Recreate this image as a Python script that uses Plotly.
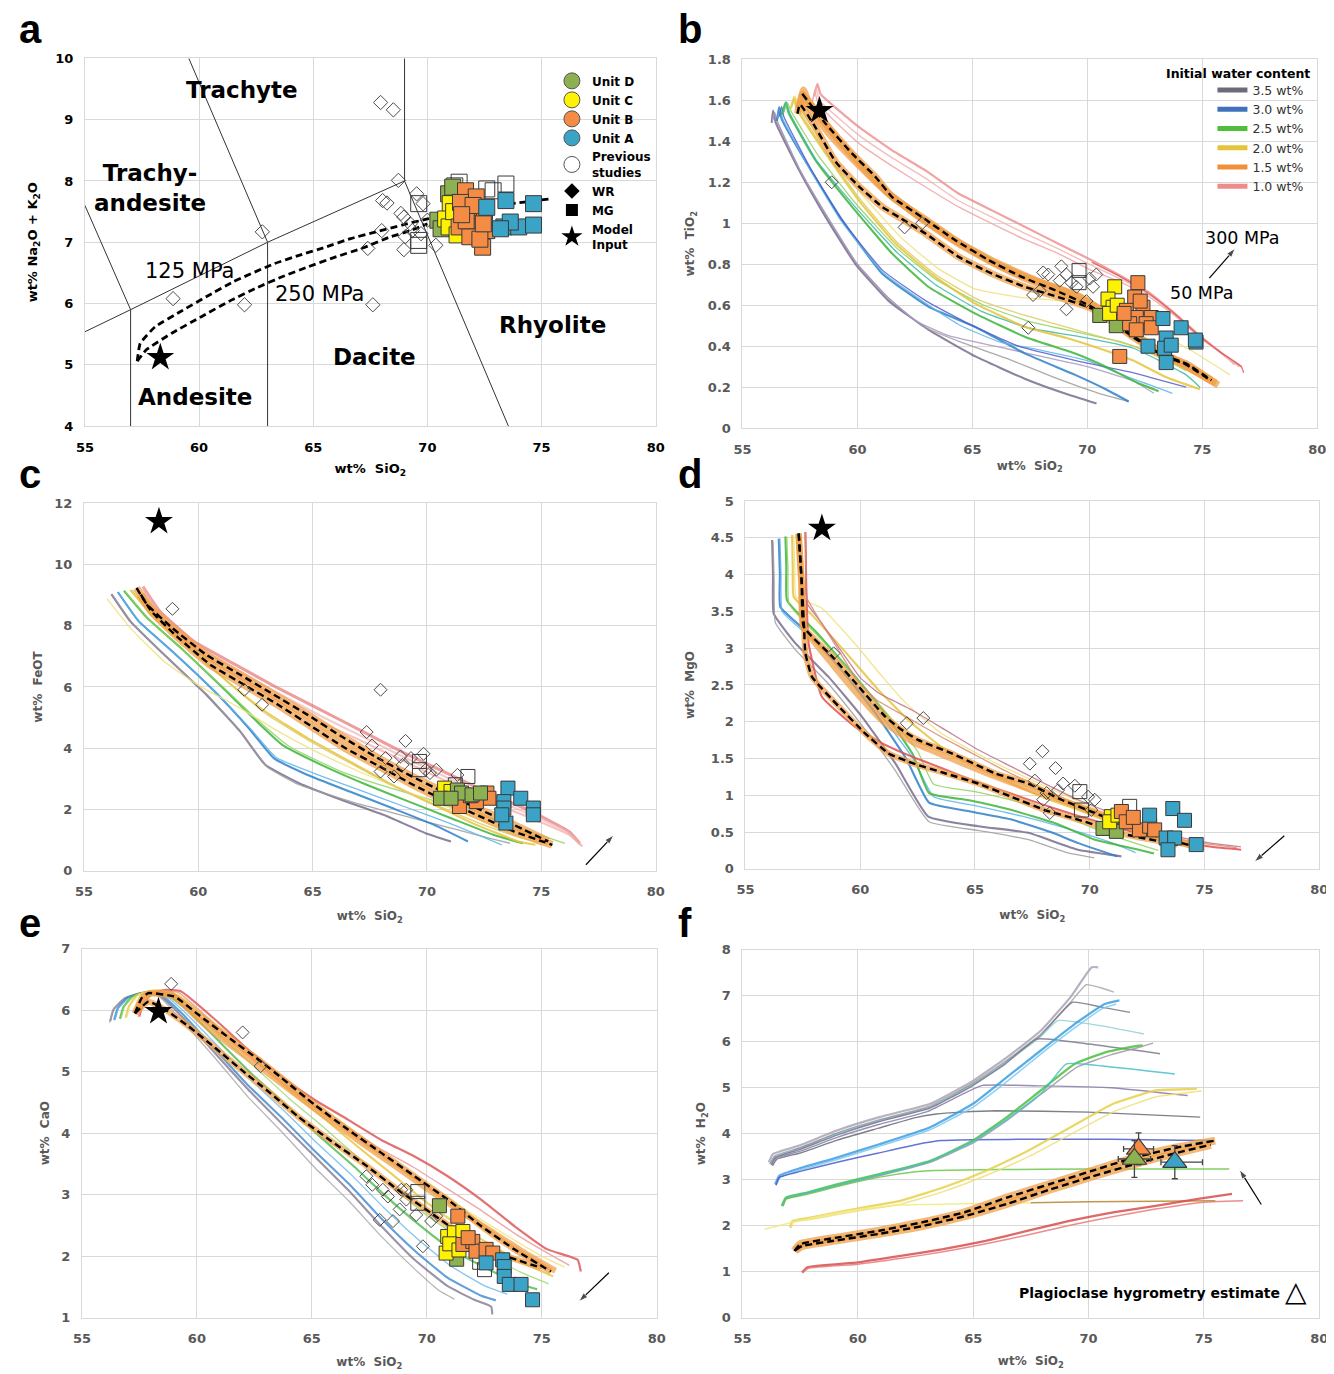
import plotly.graph_objects as go

W, H = 1334, 1374

# ---------------- Panel a : TAS diagram ----------------
TAS_LINES_X = [[55, 57, 63, 69], [55, 57], [57, 57], [59.55, 63], [63, 63], [69, 69], [69, 73.55]]
TAS_LINES_Y = [[5.54, 5.9, 7.0, 8.0], [7.6, 5.9], [5.9, 4], [10, 7], [7, 4], [8, 10], [8, 4]]
A_DASH1_X = [57.29, 57.42, 58.07, 59.19, 60.31, 61.52, 63.29, 64.41, 65.53, 66.64, 67.76, 68.88, 70.0, 71.86, 73.72, 75.4]
A_DASH1_Y = [5.06, 5.35, 5.62, 5.87, 6.11, 6.36, 6.65, 6.79, 6.92, 7.06, 7.17, 7.28, 7.38, 7.52, 7.63, 7.71]
A_DASH2_X = [57.29, 57.70, 58.82, 60.12, 61.43, 62.54, 63.66, 64.78, 65.90, 67.20, 68.32, 69.25, 70.0]
A_DASH2_Y = [5.06, 5.25, 5.52, 5.79, 6.06, 6.26, 6.44, 6.60, 6.75, 6.91, 7.08, 7.19, 7.30]
A_WR_X = [67.95, 68.51, 68.73, 69.53, 68.04, 68.23, 69.81, 68.84, 68.97, 69.25, 68.0, 62.77, 67.39, 69.03, 68.97, 70.37, 70.0, 58.86, 61.99, 67.61, 69.34, 69.72]
A_WR_Y = [9.28, 9.16, 8.01, 7.79, 7.68, 7.64, 7.63, 7.47, 7.41, 7.30, 7.19, 7.17, 6.90, 7.09, 6.88, 6.95, 7.36, 6.08, 5.98, 5.98, 7.19, 7.14]
A_MG_X = [69.62, 69.62, 69.62, 71.39, 72.60, 73.44, 72.88, 71.2]
A_MG_Y = [7.63, 7.03, 6.95, 7.98, 7.87, 7.95, 7.84, 7.92]
A_D_X = [70.46, 70.93, 71.11, 70.6]
A_D_Y = [7.36, 7.79, 7.90, 7.22]
A_C_X = [71.0, 70.8, 70.95, 71.15, 71.3]
A_C_Y = [7.63, 7.38, 7.25, 7.5, 7.12]
A_B_X = [71.67, 72.14, 71.58, 72.05, 71.39, 71.95, 72.6, 72.42, 71.86, 72.23, 71.45, 72.5, 71.7, 72.3, 72.0, 71.5, 72.45]
A_B_Y = [7.84, 7.74, 7.52, 7.41, 7.25, 7.25, 7.19, 6.92, 7.09, 7.57, 7.65, 7.40, 7.35, 7.05, 7.60, 7.45, 7.30]
A_A_X = [72.6, 73.44, 74.65, 73.35, 74.0, 74.65, 73.63, 73.2]
A_A_Y = [7.57, 7.68, 7.63, 7.25, 7.25, 7.28, 7.33, 7.22]
A_STAR = [[58.3], [5.12]]

# ---------------- Panel b : TiO2 ----------------
TIO2_35 = [
    [[56.27, 56.33, 56.45, 57.46, 58.62, 59.92, 61.37, 63.1, 65.13, 67.3, 69.0, 70.4],
     [1.49, 1.55, 1.49, 1.26, 1.03, 0.80, 0.62, 0.48, 0.35, 0.24, 0.17, 0.12]],
    [[56.3, 56.4, 56.5, 57.5, 58.7, 60.0, 61.4, 62.8, 64.5, 66.5, 68.5, 70.5, 71.8],
     [1.50, 1.54, 1.50, 1.26, 1.03, 0.80, 0.63, 0.50, 0.42, 0.34, 0.25, 0.17, 0.13]],
    [[56.3, 56.4, 56.5, 57.5, 58.7, 60.0, 61.4, 62.6, 64.0, 66.0, 68.0, 70.0, 72.0, 72.9],
     [1.50, 1.54, 1.50, 1.26, 1.03, 0.80, 0.63, 0.52, 0.45, 0.40, 0.35, 0.30, 0.23, 0.17]],
]
TIO2_30 = [
    [[56.5, 56.59, 56.7, 57.89, 59.34, 61.08, 63.1, 65.13, 67.3, 69.47, 70.8, 71.8],
     [1.50, 1.567, 1.51, 1.275, 1.015, 0.754, 0.592, 0.494, 0.364, 0.26, 0.19, 0.13]],
    [[56.55, 56.65, 56.75, 57.9, 59.3, 61.1, 63.1, 64.5, 66.2, 68.0, 70.0, 72.0, 73.7],
     [1.51, 1.56, 1.51, 1.27, 1.01, 0.76, 0.60, 0.50, 0.42, 0.38, 0.33, 0.24, 0.17]],
    [[56.6, 56.7, 56.8, 57.9, 59.3, 61.1, 63.0, 65.0, 67.0, 69.5, 72.0, 74.3],
     [1.52, 1.57, 1.52, 1.28, 1.02, 0.77, 0.62, 0.50, 0.40, 0.33, 0.27, 0.20]],
]
TIO2_25 = [
    [[56.7, 56.88, 57.0, 58.18, 59.77, 61.51, 63.1, 65.13, 67.3, 69.47, 70.8, 72.2, 73.1],
     [1.53, 1.59, 1.54, 1.307, 1.08, 0.852, 0.689, 0.559, 0.445, 0.364, 0.30, 0.22, 0.18]],
    [[56.8, 56.95, 57.1, 58.3, 59.9, 61.7, 63.5, 65.5, 67.5, 69.5, 71.5, 73.0, 74.3],
     [1.54, 1.59, 1.55, 1.33, 1.10, 0.88, 0.72, 0.60, 0.52, 0.47, 0.42, 0.36, 0.28]],
    [[56.75, 56.9, 57.05, 58.2, 59.9, 61.7, 63.4, 65.4, 67.4, 69.5, 72.0, 74.3, 74.9],
     [1.53, 1.59, 1.54, 1.31, 1.08, 0.86, 0.70, 0.57, 0.49, 0.45, 0.39, 0.26, 0.20]],
]
TIO2_20 = [
    [[57.1, 57.24, 57.35, 58.62, 60.06, 61.66, 63.39, 65.13, 67.3, 69.1, 70.5, 72.0, 73.4, 74.9],
     [1.56, 1.616, 1.56, 1.34, 1.112, 0.90, 0.738, 0.608, 0.494, 0.44, 0.39, 0.33, 0.25, 0.19]],
    [[57.2, 57.3, 57.4, 58.7, 60.2, 61.9, 63.5, 65.1, 67.0, 69.0, 70.5, 72.5, 74.5, 76.2],
     [1.58, 1.62, 1.58, 1.36, 1.14, 0.93, 0.78, 0.68, 0.64, 0.62, 0.59, 0.50, 0.38, 0.26]],
    [[57.15, 57.27, 57.38, 58.6, 60.1, 61.7, 63.4, 65.2, 67.3, 69.5, 72.0, 74.0, 75.6],
     [1.57, 1.61, 1.57, 1.35, 1.12, 0.91, 0.75, 0.63, 0.55, 0.48, 0.40, 0.30, 0.22]],
]
TIO2_15 = [
    [[57.45, 57.6, 57.8, 58.9, 60.0, 61.2, 62.6, 64.2, 66.0, 67.8, 69.5, 71.0, 72.5, 74.0, 75.6],
     [1.56, 1.63, 1.58, 1.42, 1.29, 1.16, 1.04, 0.92, 0.81, 0.72, 0.65, 0.55, 0.42, 0.32, 0.22]],
    [[57.5, 57.65, 57.85, 59.0, 60.1, 61.3, 62.8, 64.4, 66.2, 68.0, 69.7, 71.2, 72.7, 74.2, 75.7],
     [1.57, 1.65, 1.60, 1.43, 1.29, 1.15, 1.02, 0.90, 0.79, 0.71, 0.64, 0.53, 0.41, 0.31, 0.21]],
]
TIO2_DASH = [
    [[57.6, 58.62, 59.77, 60.79, 61.51, 62.81, 64.26, 65.71, 67.15, 68.6, 70.19, 71.98, 73.14, 74.3, 75.4],
     [1.632, 1.486, 1.34, 1.226, 1.128, 1.03, 0.917, 0.82, 0.738, 0.673, 0.592, 0.445, 0.364, 0.315, 0.234]],
    [[57.39, 57.5, 58.11, 59.05, 60.06, 61.08, 61.8, 62.96, 64.4, 65.85, 67.3, 68.74, 70.19, 72.0, 73.2, 74.3, 75.4],
     [1.535, 1.58, 1.48, 1.30, 1.18, 1.08, 1.03, 0.95, 0.836, 0.754, 0.689, 0.64, 0.584, 0.45, 0.36, 0.31, 0.23]],
]
TIO2_10 = [
    [[58.1, 58.26, 58.4, 60.06, 61.51, 62.96, 64.4, 65.85, 67.3, 68.74, 70.19, 71.5, 72.7, 73.8, 74.9, 75.8, 76.7],
     [1.62, 1.68, 1.63, 1.47, 1.356, 1.258, 1.145, 1.063, 0.982, 0.90, 0.82, 0.74, 0.66, 0.56, 0.45, 0.37, 0.30]],
    [[58.0, 58.15, 58.3, 60.06, 61.5, 62.96, 64.4, 65.85, 67.3, 68.74, 70.19, 71.5, 72.7, 73.8, 74.9, 75.8, 76.4],
     [1.58, 1.64, 1.58, 1.39, 1.28, 1.177, 1.08, 0.998, 0.92, 0.852, 0.77, 0.71, 0.64, 0.55, 0.44, 0.37, 0.31]],
    [[58.05, 58.2, 58.35, 60.06, 61.5, 62.96, 64.4, 65.85, 67.3, 68.74, 70.19, 71.5, 72.7, 73.8, 74.9, 75.8, 76.6],
     [1.60, 1.66, 1.60, 1.43, 1.32, 1.22, 1.11, 1.03, 0.95, 0.875, 0.795, 0.725, 0.65, 0.555, 0.445, 0.37, 0.30]],
    [[70.19, 71.5, 72.7, 73.8, 74.9, 75.8, 76.7, 76.8],
     [0.81, 0.735, 0.655, 0.558, 0.447, 0.37, 0.30, 0.27]],
]
B_WR_X = [58.88, 62.05, 62.81, 67.43, 68.08, 68.3, 68.87, 69.09, 68.8, 69.31, 69.53, 70.1, 70.39, 70.25, 69.96, 67.64, 67.93, 69.09]
B_WR_Y = [1.20, 0.98, 1.00, 0.49, 0.76, 0.75, 0.79, 0.75, 0.72, 0.71, 0.69, 0.73, 0.75, 0.69, 0.62, 0.65, 0.67, 0.58]
B_MG_X = [69.64, 69.64]
B_MG_Y = [0.77, 0.71]
B_D_X = [70.54, 71.26, 71.0]
B_D_Y = [0.55, 0.50, 0.58]
B_C_X = [71.19, 70.9, 71.12, 70.97, 71.3]
B_C_Y = [0.69, 0.63, 0.59, 0.56, 0.60]
B_B_X = [72.2, 72.06, 71.7, 72.42, 72.13, 72.78, 71.84, 72.56, 72.13, 72.78, 71.41, 71.6, 72.3]
B_B_Y = [0.71, 0.64, 0.575, 0.59, 0.54, 0.54, 0.51, 0.51, 0.48, 0.49, 0.35, 0.56, 0.62]
B_A_X = [73.29, 74.08, 74.73, 73.43, 72.64, 73.36, 73.65, 73.43, 74.7]
B_A_Y = [0.535, 0.49, 0.42, 0.44, 0.40, 0.39, 0.405, 0.32, 0.43]
B_STAR = [[58.35], [1.55]]

# ---------------- Panel c : FeOT ----------------
FEO_35 = [
    [[56.2, 57.03, 58.51, 60.35, 61.83, 62.93, 64.41, 66.25, 68.1, 69.94, 71.05],
     [9.03, 8.14, 7.05, 5.75, 4.55, 3.46, 2.86, 2.32, 1.83, 1.23, 0.96]],
    [[56.25, 57.1, 58.6, 60.45, 61.9, 63.0, 64.41, 67.18, 69.94, 72.71, 73.63],
     [9.0, 8.1, 7.0, 5.7, 4.5, 3.4, 2.81, 2.15, 1.61, 1.07, 0.9]],
]
FEO_30 = [
    [[56.48, 57.4, 58.87, 60.72, 62.2, 63.3, 64.78, 66.62, 68.47, 70.31, 71.79],
     [9.10, 8.14, 7.16, 5.85, 4.66, 3.68, 3.13, 2.59, 2.05, 1.50, 0.96]],
    [[56.5, 57.45, 58.95, 60.8, 62.3, 63.4, 65.0, 67.0, 69.0, 71.0, 73.27],
     [9.08, 8.1, 7.1, 5.8, 4.62, 3.7, 3.2, 2.65, 2.1, 1.55, 0.85]],
]
FEO_25 = [
    [[56.75, 57.77, 59.24, 61.09, 62.56, 63.67, 65.52, 67.36, 69.21, 71.05, 72.9, 74.19],
     [9.14, 8.25, 7.27, 5.96, 4.87, 4.11, 3.41, 2.81, 2.26, 1.72, 1.18, 0.90]],
    [[56.8, 57.85, 59.3, 61.2, 62.7, 64.0, 66.25, 68.1, 69.94, 71.8, 73.63, 76.03],
     [9.12, 8.2, 7.22, 5.92, 4.85, 4.05, 3.24, 2.77, 2.37, 1.94, 1.50, 0.90]],
]
FEO_20 = [
    [[57.03, 57.95, 59.43, 61.27, 62.93, 64.78, 66.62, 68.47, 70.31, 72.16, 74.0, 74.74],
     [9.17, 8.36, 7.38, 6.18, 5.2, 4.33, 3.57, 2.81, 2.15, 1.50, 0.96, 0.85]],
    [[56.01, 57.03, 58.51, 59.98, 61.83, 63.5, 65.0, 67.0, 69.0, 71.0, 73.0, 75.0],
     [8.88, 7.92, 6.83, 6.07, 5.31, 4.55, 3.95, 3.25, 2.62, 2.05, 1.45, 0.85]],
    [[57.1, 58.0, 59.5, 61.35, 63.0, 64.9, 66.8, 68.6, 70.5, 72.3, 74.2, 75.5],
     [9.15, 8.3, 7.33, 6.12, 5.1, 4.22, 3.45, 2.75, 2.12, 1.55, 1.05, 0.85]],
]
FEO_DASH = [
    [[57.3, 57.77, 58.87, 60.35, 61.83, 63.3, 64.78, 66.25, 67.73, 69.21, 70.68, 72.16, 73.63, 75.3],
     [9.23, 8.68, 7.92, 7.05, 6.40, 5.75, 5.09, 4.39, 3.73, 3.13, 2.59, 2.05, 1.56, 0.96]],
    [[57.49, 57.95, 59.06, 60.54, 62.01, 63.49, 64.96, 66.44, 67.92, 69.39, 70.87, 72.34, 73.82, 75.48],
     [9.01, 8.47, 7.65, 6.72, 6.07, 5.42, 4.71, 4.0, 3.41, 2.81, 2.26, 1.77, 1.28, 0.85]],
]
FEO_10 = [
    [[57.58, 58.32, 59.8, 61.64, 63.49, 65.33, 67.18, 69.02, 70.87, 72.71, 74.56, 76.22, 76.68],
     [9.28, 8.47, 7.49, 6.72, 5.96, 5.26, 4.55, 3.84, 3.19, 2.54, 1.94, 1.28, 0.90]],
    [[57.6, 58.4, 59.8, 61.64, 63.49, 65.33, 67.18, 69.02, 70.87, 72.71, 74.56, 76.22, 76.8],
     [9.2, 8.2, 7.27, 6.40, 5.64, 4.87, 4.22, 3.57, 2.92, 2.26, 1.72, 1.18, 0.80]],
    [[57.59, 58.36, 59.8, 61.64, 63.49, 65.33, 67.18, 69.02, 70.87, 72.71, 74.56, 76.22, 76.7],
     [9.25, 8.33, 7.38, 6.56, 5.80, 5.06, 4.38, 3.70, 3.05, 2.40, 1.83, 1.23, 0.85]],
]
C_WR_X = [58.87, 62.01, 62.79, 67.97, 67.36, 67.6, 69.06, 69.85, 68.19, 68.84, 68.93, 69.3, 70.13, 70.41, 71.33, 67.97, 68.56, 69.94]
C_WR_Y = [8.55, 5.91, 5.42, 5.91, 4.53, 4.09, 4.24, 3.82, 3.68, 3.73, 3.46, 3.68, 3.19, 3.30, 3.13, 3.24, 3.08, 3.30]
C_MG_X = [69.67, 69.67, 71.79, 71.24]
C_MG_Y = [3.57, 3.30, 3.08, 2.81]
C_C_X = [70.77, 71.05]
C_C_Y = [2.70, 2.59]
C_B_X = [72.62, 71.42, 72.71, 72.16, 71.9]
C_B_Y = [2.54, 2.10, 2.37, 2.26, 2.45]
C_D_X = [70.59, 71.33, 71.51, 71.97, 72.34, 71.05]
C_D_Y = [2.37, 2.64, 2.54, 2.48, 2.54, 2.37]
C_A_X = [73.54, 74.1, 73.36, 74.65, 74.65, 73.36, 73.45, 73.27]
C_A_Y = [2.70, 2.37, 2.26, 2.05, 1.83, 2.05, 1.56, 1.83]
C_STAR = [[58.28], [11.4]]

# ---------------- Panel d : MgO ----------------
MGO_35 = [
    [[56.16, 56.2, 56.23, 57.17, 58.62, 60.07, 61.52, 62.97, 65.14, 67.32, 69.49, 71.38],
     [4.47, 4.0, 3.47, 3.07, 2.61, 2.07, 1.44, 0.71, 0.58, 0.49, 0.26, 0.17]],
    [[56.2, 56.25, 56.3, 57.2, 58.6, 60.0, 61.5, 63.0, 65.2, 67.3, 69.0, 70.2],
     [4.45, 3.9, 3.35, 2.97, 2.52, 1.98, 1.35, 0.64, 0.52, 0.40, 0.22, 0.15]],
]
MGO_30 = [
    [[56.45, 56.5, 56.52, 57.9, 59.3, 60.7, 62.0, 63.0, 64.8, 66.6, 68.3, 69.5, 71.2],
     [4.49, 4.0, 3.56, 3.16, 2.66, 2.10, 1.50, 0.90, 0.78, 0.67, 0.50, 0.35, 0.17]],
    [[56.5, 56.55, 56.6, 58.0, 59.5, 61.0, 62.3, 63.2, 65.0, 67.0, 69.0, 71.0, 72.0],
     [4.49, 4.0, 3.5, 3.1, 2.6, 2.05, 1.5, 0.98, 0.86, 0.72, 0.55, 0.35, 0.22]],
]
MGO_25 = [
    [[56.74, 56.78, 56.81, 58.2, 59.6, 61.0, 62.3, 63.0, 64.8, 66.6, 68.5, 70.2, 72.0, 72.8],
     [4.52, 4.1, 3.65, 3.18, 2.68, 2.15, 1.55, 1.03, 0.93, 0.80, 0.62, 0.40, 0.27, 0.21]],
    [[56.8, 56.85, 56.9, 58.3, 59.8, 61.2, 62.5, 63.2, 65.0, 67.0, 69.0, 71.0, 73.0],
     [4.52, 4.1, 3.6, 3.12, 2.6, 2.1, 1.6, 1.15, 1.05, 0.90, 0.70, 0.45, 0.25]],
]
MGO_20 = [
    [[57.03, 57.06, 57.1, 57.9, 59.35, 60.8, 62.25, 63.7, 65.2, 66.6, 68.0, 69.5, 71.0, 72.4, 74.3],
     [4.54, 4.1, 3.7, 3.45, 2.95, 2.43, 1.98, 1.62, 1.37, 1.16, 0.97, 0.80, 0.62, 0.44, 0.30]],
    [[57.1, 57.15, 57.2, 58.3, 59.8, 61.0, 62.0, 63.5, 65.5, 68.0, 70.5, 73.0, 75.0],
     [4.54, 4.1, 3.7, 3.55, 3.05, 2.6, 2.25, 1.85, 1.50, 1.13, 0.78, 0.46, 0.32]],
]
MGO_15 = [
    [[57.3, 57.42, 57.5, 58.6, 59.8, 61.0, 62.3, 63.8, 65.5, 67.2, 68.9, 70.5, 72.5, 75.0],
     [4.55, 3.9, 3.3, 2.85, 2.40, 2.0, 1.72, 1.52, 1.30, 1.10, 0.92, 0.74, 0.50, 0.28]],
]
MGO_DASH = [
    [[57.32, 57.45, 57.54, 58.77, 59.93, 61.09, 61.81, 62.54, 63.99, 65.87, 67.32, 68.77, 70.22, 72.39, 74.86],
     [4.56, 3.9, 3.29, 2.89, 2.48, 2.07, 1.89, 1.75, 1.57, 1.30, 1.16, 0.94, 0.76, 0.49, 0.28]],
    [[57.32, 57.45, 57.55, 57.61, 57.9, 59.06, 60.22, 61.23, 62.25, 63.7, 65.14, 66.59, 68.04, 69.49, 71.67, 73.84],
     [4.56, 3.9, 3.3, 2.93, 2.61, 2.21, 1.84, 1.57, 1.44, 1.30, 1.16, 0.98, 0.80, 0.67, 0.46, 0.33]],
]
MGO_10 = [
    [[57.61, 57.65, 57.75, 58.33, 59.78, 61.0, 62.3, 63.7, 65.1, 66.6, 68.0, 69.5, 71.0, 72.4, 73.8, 75.3, 76.6],
     [4.58, 3.8, 3.07, 2.34, 1.93, 1.70, 1.52, 1.35, 1.18, 1.02, 0.87, 0.72, 0.58, 0.46, 0.37, 0.30, 0.26]],
    [[57.61, 57.65, 57.7, 58.3, 59.2, 60.0, 60.8, 62.25, 63.7, 65.14, 66.59, 68.04, 69.49, 70.94, 72.39, 73.84, 75.29, 76.59],
     [4.58, 4.0, 3.6, 3.35, 2.95, 2.60, 2.39, 2.16, 1.89, 1.62, 1.39, 1.16, 0.94, 0.76, 0.58, 0.44, 0.35, 0.30]],
    [[57.61, 57.63, 57.65, 58.2, 59.0, 59.9, 60.7, 62.1, 63.5, 65.0, 66.4, 67.9, 69.3, 70.8, 72.2, 73.7, 75.1, 76.4],
     [4.58, 4.1, 3.7, 3.4, 3.0, 2.55, 2.30, 2.05, 1.80, 1.55, 1.32, 1.10, 0.89, 0.71, 0.55, 0.42, 0.34, 0.29]],
]
D_WR_X = [58.84, 62.03, 62.75, 67.39, 67.94, 68.51, 67.61, 68.84, 69.35, 68.12, 68.62, 67.97, 69.93, 70.22, 68.26, 70.07]
D_WR_Y = [2.93, 1.98, 2.05, 1.43, 1.60, 1.37, 1.20, 1.16, 1.13, 1.03, 1.07, 0.94, 0.98, 0.94, 0.76, 0.80]
D_MG_X = [69.57, 69.64, 71.74]
D_MG_Y = [1.05, 0.80, 0.85]
D_D_X = [70.58, 71.16]
D_D_Y = [0.55, 0.51]
D_C_X = [70.94, 70.87, 71.23]
D_C_Y = [0.71, 0.64, 0.73]
D_B_X = [71.38, 71.59, 72.17, 72.61, 72.83, 71.9]
D_B_Y = [0.78, 0.64, 0.53, 0.58, 0.53, 0.70]
D_A_X = [72.61, 73.62, 74.13, 73.33, 73.7, 73.41, 74.64]
D_A_Y = [0.73, 0.82, 0.66, 0.42, 0.42, 0.26, 0.33]
D_STAR = [[58.33], [4.63]]

# ---------------- Panel e : CaO ----------------
CAO_35 = [
    [[56.23, 56.37, 56.88, 57.6, 58.33, 59.34, 60.79, 62.23, 63.68, 65.13, 66.57, 68.02, 69.47, 70.91, 72.07, 72.8, 72.85],
     [5.82, 6.01, 6.20, 6.28, 6.25, 5.90, 5.30, 4.71, 4.16, 3.62, 3.08, 2.49, 1.94, 1.51, 1.29, 1.18, 1.05]],
    [[56.2, 56.35, 56.9, 57.6, 58.3, 59.3, 60.8, 62.2, 63.7, 65.1, 66.6, 68.0, 69.5, 70.5, 71.2],
     [5.80, 6.0, 6.19, 6.27, 6.24, 5.85, 5.22, 4.60, 4.02, 3.45, 2.90, 2.33, 1.78, 1.45, 1.30]],
]
CAO_30 = [
    [[56.4, 56.55, 57.0, 57.7, 58.4, 59.4, 60.8, 62.2, 63.7, 65.1, 66.6, 68.0, 69.5, 70.9, 72.4, 73.0],
     [5.84, 6.03, 6.21, 6.29, 6.26, 5.93, 5.36, 4.79, 4.25, 3.72, 3.18, 2.62, 2.08, 1.65, 1.35, 1.28]],
    [[56.45, 56.6, 57.1, 57.8, 58.5, 59.5, 60.9, 62.3, 63.8, 65.2, 66.7, 68.1, 69.6, 71.0, 72.5, 73.5],
     [5.85, 6.04, 6.22, 6.29, 6.27, 5.96, 5.42, 4.88, 4.36, 3.85, 3.33, 2.80, 2.28, 1.85, 1.52, 1.38]],
]
CAO_25 = [
    [[56.65, 56.8, 57.2, 57.9, 58.6, 59.6, 61.0, 62.4, 63.9, 65.3, 66.8, 68.2, 69.7, 71.1, 72.6, 74.0, 74.8],
     [5.86, 6.05, 6.23, 6.30, 6.28, 6.0, 5.48, 4.96, 4.45, 3.96, 3.47, 2.98, 2.50, 2.10, 1.80, 1.55, 1.46]],
    [[56.7, 56.85, 57.3, 58.0, 58.7, 59.7, 61.1, 62.6, 64.0, 65.5, 66.9, 68.4, 69.8, 71.3, 72.7, 74.2, 75.3],
     [5.87, 6.06, 6.24, 6.31, 6.29, 6.04, 5.55, 5.05, 4.57, 4.10, 3.64, 3.16, 2.72, 2.33, 2.00, 1.72, 1.55]],
]
CAO_20 = [
    [[56.9, 57.05, 57.4, 58.1, 58.8, 59.8, 61.2, 62.7, 64.1, 65.6, 67.0, 68.5, 69.9, 71.4, 72.8, 74.3, 75.5],
     [5.88, 6.07, 6.25, 6.32, 6.31, 6.08, 5.62, 5.14, 4.67, 4.22, 3.78, 3.33, 2.90, 2.50, 2.18, 1.87, 1.67]],
    [[56.95, 57.1, 57.5, 58.2, 59.0, 60.1, 61.5, 63.0, 64.5, 66.0, 67.5, 69.0, 70.5, 72.0, 73.5, 75.0, 76.0],
     [5.89, 6.08, 6.26, 6.33, 6.32, 6.0, 5.58, 5.12, 4.68, 4.26, 3.85, 3.45, 3.05, 2.68, 2.33, 2.00, 1.82]],
]
CAO_15 = [
    [[57.3, 57.6, 58.0, 58.9, 60.0, 61.4, 62.8, 64.2, 65.7, 67.1, 68.6, 70.0, 71.5, 72.9, 74.4, 75.6],
     [5.95, 6.15, 6.27, 6.26, 5.88, 5.45, 5.06, 4.66, 4.24, 3.86, 3.47, 3.10, 2.72, 2.38, 2.02, 1.76]],
]
CAO_DASH = [
    [[57.3, 57.6, 57.89, 59.05, 60.06, 61.51, 62.67, 63.68, 65.13, 66.57, 68.02, 69.47, 70.91, 72.36, 73.81, 75.4],
     [5.95, 6.2, 6.28, 6.22, 5.93, 5.52, 5.2, 4.9, 4.46, 4.06, 3.68, 3.3, 2.92, 2.49, 2.11, 1.75]],
    [[57.31, 57.89, 58.62, 59.63, 60.79, 61.94, 63.1, 64.4, 65.85, 67.3, 68.74, 70.19, 71.64, 73.08, 74.97],
     [5.95, 6.14, 6.01, 5.74, 5.39, 5.03, 4.68, 4.27, 3.87, 3.49, 3.08, 2.70, 2.32, 2.05, 1.81]],
]
CAO_10 = [
    [[57.5, 57.65, 58.0, 58.6, 59.3, 60.79, 62.23, 63.68, 65.13, 66.57, 68.02, 69.47, 70.91, 72.36, 73.81, 75.25, 76.56, 76.7],
     [5.90, 6.10, 6.26, 6.33, 6.31, 5.85, 5.36, 4.92, 4.54, 4.22, 3.89, 3.62, 3.30, 2.92, 2.49, 2.11, 1.94, 1.75]],
    [[57.45, 57.6, 58.0, 58.6, 59.2, 60.7, 62.1, 63.6, 65.0, 66.5, 67.9, 69.4, 70.8, 72.3, 73.7, 75.2, 76.2],
     [5.89, 6.08, 6.25, 6.32, 6.29, 5.80, 5.30, 4.85, 4.45, 4.10, 3.76, 3.45, 3.12, 2.76, 2.40, 2.06, 1.85]],
]
E_WR_X = [58.88, 61.99, 62.77, 67.37, 67.63, 68.09, 68.31, 68.89, 69.11, 68.82, 68.53, 67.95, 69.54, 70.19, 70.41, 69.83, 69.11]
E_WR_Y = [6.43, 5.64, 5.09, 3.30, 3.16, 3.08, 2.97, 3.08, 3.08, 2.76, 2.57, 2.59, 2.67, 2.57, 2.65, 2.16, 2.92]
E_MG_X = [69.61, 69.61, 72.51, 72.3]
E_MG_Y = [2.86, 3.05, 1.78, 1.90]
E_D_X = [70.55, 71.3]
E_D_Y = [2.82, 1.95]
E_C_X = [70.84, 70.91, 71.2, 71.57, 71.0, 71.4]
E_C_Y = [2.05, 2.32, 2.38, 2.40, 2.20, 2.10]
E_B_X = [71.35, 71.57, 72.0, 72.14, 72.58, 72.87, 71.8]
E_B_Y = [2.65, 2.19, 2.24, 2.08, 2.11, 2.05, 2.30]
E_A_X = [72.58, 73.3, 73.37, 73.37, 73.59, 74.1, 74.6]
E_A_Y = [1.89, 1.94, 1.83, 1.67, 1.54, 1.54, 1.29]
E_STAR = [[58.33], [5.98]]

# ---------------- Panel f : H2O ----------------
H2O_35 = [
    [[56.14, 56.33, 57.5, 59.09, 60.93, 63.14, 64.99, 66.46, 67.93, 69.22, 70.14, 70.42],
     [3.38, 3.56, 3.75, 4.07, 4.36, 4.65, 5.15, 5.66, 6.24, 6.97, 7.62, 7.62]],
    [[56.2, 56.4, 57.5, 59.1, 60.9, 63.1, 64.9, 66.4, 67.9, 69.2, 69.9, 70.5, 71.1],
     [3.35, 3.52, 3.70, 4.02, 4.30, 4.60, 5.08, 5.58, 6.15, 6.85, 7.24, 7.18, 7.08]],
    [[56.2, 56.4, 57.5, 59.1, 60.9, 63.1, 64.9, 66.4, 67.9, 69.3, 70.5, 71.8],
     [3.34, 3.50, 3.68, 4.0, 4.28, 4.57, 5.05, 5.55, 6.12, 6.86, 6.76, 6.64]],
    [[56.22, 56.42, 57.5, 59.1, 60.9, 63.1, 64.9, 66.4, 67.9, 68.67, 70.5, 72.4],
     [3.34, 3.5, 3.67, 3.99, 4.27, 4.56, 5.04, 5.54, 6.1, 6.46, 6.35, 6.17]],
    [[56.25, 56.45, 57.5, 59.1, 60.9, 63.1, 64.9, 66.4, 67.75, 70.0, 73.1],
     [3.33, 3.49, 3.66, 3.97, 4.26, 4.55, 5.02, 5.52, 6.06, 5.95, 5.74]],
    [[56.25, 56.45, 57.5, 59.1, 60.9, 63.0, 64.5, 65.4, 68.0, 71.0, 74.3],
     [3.32, 3.47, 3.62, 3.92, 4.20, 4.48, 4.85, 5.05, 5.04, 5.0, 4.83]],
    [[56.3, 56.5, 57.5, 59.1, 60.9, 62.5, 63.4, 64.5, 66.0, 70.0, 74.84],
     [3.30, 3.45, 3.58, 3.86, 4.12, 4.35, 4.43, 4.47, 4.50, 4.47, 4.36]],
]
H2O_30 = [
    [[56.42, 56.6, 57.5, 59.09, 60.93, 63.14, 64.99, 66.46, 67.93, 69.41, 70.7, 71.34],
     [2.9, 3.09, 3.25, 3.48, 3.77, 4.14, 4.65, 5.23, 5.81, 6.39, 6.82, 6.90]],
    [[56.45, 56.65, 57.5, 59.1, 60.9, 63.1, 65.0, 66.5, 67.9, 69.4, 70.6, 71.2],
     [2.88, 3.06, 3.21, 3.44, 3.72, 4.08, 4.58, 5.15, 5.72, 6.3, 6.72, 6.82]],
    [[56.45, 56.6, 57.5, 59.1, 60.9, 62.5, 63.6, 65.0, 68.0, 71.0, 74.0, 75.3],
     [2.88, 3.05, 3.18, 3.38, 3.58, 3.76, 3.85, 3.87, 3.88, 3.88, 3.86, 3.85]],
]
H2O_25 = [
    [[56.7, 56.88, 57.8, 59.09, 60.93, 63.14, 64.99, 66.46, 67.93, 69.41, 70.8, 72.0, 72.35],
     [2.43, 2.61, 2.72, 2.9, 3.12, 3.41, 3.85, 4.36, 4.94, 5.52, 5.78, 5.90, 5.92]],
    [[56.75, 56.9, 57.8, 59.1, 60.9, 63.1, 65.0, 66.5, 68.0, 69.5, 71.0, 72.2, 72.8],
     [2.42, 2.59, 2.70, 2.87, 3.08, 3.37, 3.80, 4.30, 4.88, 5.45, 5.72, 5.88, 5.97]],
    [[56.72, 56.9, 57.8, 59.1, 60.9, 63.1, 65.0, 66.5, 68.0, 69.04, 71.0, 73.74],
     [2.43, 2.6, 2.71, 2.88, 3.10, 3.39, 3.83, 4.33, 4.90, 5.52, 5.45, 5.30]],
    [[56.75, 56.9, 57.8, 59.1, 60.9, 62.5, 63.3, 66.0, 70.0, 74.0, 76.1],
     [2.42, 2.58, 2.68, 2.85, 3.05, 3.17, 3.20, 3.22, 3.23, 3.23, 3.23]],
]
H2O_20 = [
    [[57.06, 57.16, 58.0, 59.09, 60.5, 61.85, 63.7, 65.54, 67.38, 69.22, 71.07, 72.91, 74.38, 74.7],
     [1.96, 2.1, 2.18, 2.29, 2.42, 2.54, 2.83, 3.19, 3.63, 4.14, 4.65, 4.94, 4.97, 4.98]],
    [[57.1, 57.2, 58.0, 59.1, 60.5, 61.9, 63.7, 65.5, 67.4, 69.2, 71.1, 72.9, 74.4, 74.9],
     [1.94, 2.07, 2.14, 2.24, 2.36, 2.47, 2.74, 3.08, 3.50, 3.98, 4.48, 4.80, 4.90, 4.93]],
    [[55.96, 57.2, 58.5, 60.0, 61.85, 64.0, 67.5],
     [1.92, 2.08, 2.22, 2.35, 2.45, 2.47, 2.50]],
    [[67.5, 70.0, 73.0, 75.5],
     [2.50, 2.52, 2.53, 2.54]],
]
H2O_DASH = [
    [[57.25, 57.52, 59.09, 60.93, 62.77, 64.62, 66.46, 68.3, 70.14, 71.99, 73.83, 75.49],
     [1.45, 1.6, 1.74, 1.89, 2.07, 2.29, 2.61, 2.9, 3.19, 3.48, 3.70, 3.85]],
    [[57.3, 57.6, 59.1, 60.9, 62.8, 64.6, 66.5, 68.3, 70.1, 72.0, 73.8, 75.3],
     [1.47, 1.56, 1.68, 1.82, 1.99, 2.20, 2.48, 2.78, 3.06, 3.34, 3.58, 3.76]],
]
H2O_10 = [
    [[57.58, 57.8, 60.01, 61.85, 63.7, 65.54, 67.38, 69.22, 71.07, 72.91, 74.75, 76.22],
     [0.98, 1.09, 1.2, 1.34, 1.49, 1.67, 1.89, 2.11, 2.29, 2.43, 2.58, 2.69]],
    [[57.6, 57.85, 60.0, 61.9, 63.7, 65.5, 67.4, 69.2, 71.1, 72.9, 74.8, 76.7],
     [0.97, 1.07, 1.16, 1.29, 1.43, 1.60, 1.80, 2.01, 2.20, 2.36, 2.50, 2.54]],
]
F_TRI_X = [72.17, 71.99, 73.74]
F_TRI_Y = [3.67, 3.45, 3.38]
F_TRI_EX_PLUS = [0.65, 0.7, 1.2]
F_TRI_EX_MINUS = [0.65, 0.7, 0.6]
F_TRI_EY = [0.35, 0.4, 0.36]

# pressure-direction arrows: [[x_tail, x_head], [y_tail, y_head]]
ARROW_B = [[75.31, 76.44], [0.732, 0.878]]
ARROW_C = [[76.95, 78.17], [0.2, 1.17]]
ARROW_D = [[78.48, 77.17], [0.45, 0.095]]
ARROW_E = [[77.92, 76.61], [1.73, 1.26]]
ARROW_F = [[77.49, 76.54], [2.46, 3.22]]

WATER_LABELS = ["3.5 wt%", "3.0 wt%", "2.5 wt%", "2.0 wt%", "1.5 wt%", "1.0 wt%"]
UNIT_LABELS = ["Unit D", "Unit C", "Unit B", "Unit A"]

# ---------------- styles ----------------
FONT = "DejaVu Sans"
C_D, C_C, C_B, C_A = "#8DB050", "#FFF200", "#F48C45", "#3BA3C6"
EDGE = "#3A3A3A"
COL35 = ["#7B6E8E", "#9E9E9E", "#A898C2"]
COL30 = ["#2E80CA", "#5DB4EA", "#5460C8"]
COL25 = ["#3DB53A", "#8FD460", "#3FB7A8"]
COL20 = ["#E6C53C", "#EFE27A", "#DCCB5E"]
COL10 = ["#EE8C8C", "#F0A0A0", "#F3AFAF", "#DE5454"]
LEG_COLS = ["#6E6A7C", "#3F72BA", "#4DBF3A", "#E5C43A", "#F0913A", "#EE8C8C"]

# page-to-picture correction (the photographed page is slightly offset and scaled)
SX, OX, SY, OY = 0.9887, 14.9, 0.9897, 14.6


def tx(p):
    return (p - OX) / SX


def ty(p):
    return (p - OY) / SY


# target pixel boxes for the six panels: (left, right, top, bottom)
BOX = {
    "": (83, 655, 58, 426),
    "2": (742, 1318, 59, 428),
    "3": (82, 655, 503, 871),
    "4": (745, 1320, 501, 869),
    "5": (80, 656, 949, 1318),
    "6": (742, 1320, 950, 1318),
}
YR = {"": (4, 10, 1), "2": (0, 1.8, 0.2), "3": (0, 12, 2), "4": (0, 5, 0.5), "5": (1, 7, 1), "6": (0, 8, 1)}
XTITLE_STANDOFF = {"": 10, "2": 5, "3": 13, "4": 14, "5": 12, "6": 11}
YTITLE_STANDOFF = {"": 14, "2": 10, "3": 9, "4": 13, "5": 9, "6": 13}
YTITLES = {"": "wt% Na<sub>2</sub>O + K<sub>2</sub>O", "2": "wt%  TiO<sub>2</sub>", "3": "wt%  FeOT",
           "4": "wt%  MgO", "5": "wt%  CaO", "6": "wt%  H<sub>2</sub>O"}

fig = go.Figure()


def ax(k):
    return dict(xaxis="x" + k, yaxis="y" + k)


def add_curves(k, data, colors, width=1.3, opacity=0.85):
    for i, (xs, ys) in enumerate(data):
        fig.add_trace(go.Scatter(x=xs, y=ys, mode="lines", showlegend=False, hoverinfo="skip",
                                 line=dict(color=colors[i % len(colors)], width=width if i else width + 0.8,
                                           shape="spline", smoothing=0.4),
                                 opacity=opacity, **ax(k)))


def add_band(k, data, width=7):
    for xs, ys in data:
        fig.add_trace(go.Scatter(x=xs, y=ys, mode="lines", showlegend=False, hoverinfo="skip",
                                 line=dict(color="rgba(240,160,75,0.75)", width=width, shape="spline", smoothing=0.4),
                                 **ax(k)))


def add_dash(k, data, width=2.4):
    for xs, ys in data:
        fig.add_trace(go.Scatter(x=xs, y=ys, mode="lines", showlegend=False, hoverinfo="skip",
                                 line=dict(color="black", width=width, dash="7px,4px", shape="spline", smoothing=0.4),
                                 **ax(k)))


def add_pts(k, xs, ys, symbol, size, fill, edge=EDGE, lw=1):
    fig.add_trace(go.Scatter(x=xs, y=ys, mode="markers", showlegend=False, hoverinfo="skip",
                             marker=dict(symbol=symbol, size=size, color=fill, line=dict(color=edge, width=lw)),
                             **ax(k)))


def add_samples(k, wr, mg, units, star, sq=14, dm=10, order=("D", "C", "B", "A")):
    add_pts(k, wr[0], wr[1], "diamond-open", dm, "#4A4A4A", "#4A4A4A", 1)
    add_pts(k, mg[0], mg[1], "square-open", sq, "#3A3A3A", "#3A3A3A", 1)
    cmap = {"D": C_D, "C": C_C, "B": C_B, "A": C_A}
    for u in order:
        add_pts(k, units[u][0], units[u][1], "square", sq, cmap[u])
    add_pts(k, star[0], star[1], "star", 21, "black", "black", 0)


def add_arrow(k, a):
    fig.add_trace(go.Scatter(x=a[0], y=a[1], mode="lines+markers", showlegend=False, hoverinfo="skip",
                             line=dict(color="black", width=1.2),
                             marker=dict(symbol=["circle", "arrow"], size=[0, 10], angleref="previous",
                                         color="black"),
                             **ax(k)))


# ---- panel a ----
for xs, ys in zip(TAS_LINES_X, TAS_LINES_Y):
    fig.add_trace(go.Scatter(x=xs, y=ys, mode="lines", line=dict(color="#333333", width=1),
                             showlegend=False, hoverinfo="skip", **ax("")))
add_dash("", [[A_DASH1_X, A_DASH1_Y], [A_DASH2_X, A_DASH2_Y]], width=2.8)
add_samples("", [A_WR_X, A_WR_Y], [A_MG_X, A_MG_Y],
            {"D": [A_D_X, A_D_Y], "C": [A_C_X, A_C_Y], "B": [A_B_X, A_B_Y], "A": [A_A_X, A_A_Y]},
            A_STAR, sq=16, dm=11)

# ---- panel b ----
add_curves("2", TIO2_35, COL35)
add_curves("2", TIO2_30, COL30)
add_curves("2", TIO2_25, COL25)
add_curves("2", TIO2_20, COL20)
add_curves("2", TIO2_10, COL10, width=1.4, opacity=0.8)
add_band("2", TIO2_15 + TIO2_DASH)
add_dash("2", TIO2_DASH)
add_samples("2", [B_WR_X, B_WR_Y], [B_MG_X, B_MG_Y],
            {"D": [B_D_X, B_D_Y], "C": [B_C_X, B_C_Y], "B": [B_B_X, B_B_Y], "A": [B_A_X, B_A_Y]}, B_STAR)
add_arrow("2", ARROW_B)

# ---- panel c ----
add_curves("3", FEO_35, COL35)
add_curves("3", FEO_30, COL30)
add_curves("3", FEO_25, COL25)
add_curves("3", FEO_20, COL20)
add_curves("3", FEO_10, ["#E46A6A", "#F2A2A2", "#F0B0B0"], width=2.2, opacity=0.65)
add_band("3", FEO_DASH, width=8)
add_dash("3", FEO_DASH)
add_samples("3", [C_WR_X, C_WR_Y], [C_MG_X, C_MG_Y],
            {"D": [C_D_X, C_D_Y], "C": [C_C_X, C_C_Y], "B": [C_B_X, C_B_Y], "A": [C_A_X, C_A_Y]}, C_STAR,
            order=("C", "B", "D", "A"))
add_arrow("3", ARROW_C)

# ---- panel d ----
add_curves("4", MGO_35, COL35)
add_curves("4", MGO_30, COL30)
add_curves("4", MGO_25, COL25)
add_curves("4", MGO_20, COL20)
add_curves("4", MGO_10, ["#E05050", "#C0708A", "#D88A70"], width=1.3)
add_band("4", MGO_15 + MGO_DASH, width=6)
add_dash("4", MGO_DASH)
add_samples("4", [D_WR_X, D_WR_Y], [D_MG_X, D_MG_Y],
            {"D": [D_D_X, D_D_Y], "C": [D_C_X, D_C_Y], "B": [D_B_X, D_B_Y], "A": [D_A_X, D_A_Y]}, D_STAR)
add_arrow("4", ARROW_D)

# ---- panel e ----
add_curves("5", CAO_35, COL35, opacity=0.75)
add_curves("5", CAO_30, COL30, opacity=0.75)
add_curves("5", CAO_25, COL25, opacity=0.75)
add_curves("5", CAO_20, COL20, opacity=0.8)
add_curves("5", CAO_10, ["#DE5A5A", "#EE9A9A"], width=1.4)
add_band("5", CAO_15 + CAO_DASH, width=6)
add_dash("5", CAO_DASH)
add_samples("5", [E_WR_X, E_WR_Y], [E_MG_X, E_MG_Y],
            {"D": [E_D_X, E_D_Y], "C": [E_C_X, E_C_Y], "B": [E_B_X, E_B_Y], "A": [E_A_X, E_A_Y]}, E_STAR)
add_arrow("5", ARROW_E)

# ---- panel f ----
add_curves("6", H2O_35, ["#ACA4B8", "#A8A8A8", "#767684", "#8FD2D6", "#7A7A90", "#8A78AA", "#646C74"], width=1.4)
add_curves("6", H2O_30, ["#3E9EE0", "#7CC8F0", "#4A5CC8"], width=1.5)
add_curves("6", H2O_25, ["#4CC040", "#9A9AA4", "#45BFC6", "#6CC848"], width=1.5)
add_curves("6", H2O_20, ["#E8D24A", "#F0E07A", "#F2EC80", "#B8862E"], width=1.5)
add_curves("6", H2O_10, ["#D84E4E", "#E87A7A"], width=1.5)
add_band("6", H2O_DASH, width=8)
add_dash("6", H2O_DASH)
for i, col in enumerate([C_B, C_D, C_A]):
    fig.add_trace(go.Scatter(
        x=[F_TRI_X[i]], y=[F_TRI_Y[i]], mode="markers", showlegend=False, hoverinfo="skip",
        marker=dict(symbol="triangle-up", size=21, color=col, line=dict(color=EDGE, width=1.2)),
        error_x=dict(type="data", symmetric=False, array=[F_TRI_EX_PLUS[i]], arrayminus=[F_TRI_EX_MINUS[i]],
                     color="#444", thickness=1.3, width=3),
        error_y=dict(type="data", array=[F_TRI_EY[i]], color="#444", thickness=1.3, width=3),
        **ax("6")))
add_arrow("6", ARROW_F)

# ---- legends (legend-only entries) ----
for lab, col in zip(UNIT_LABELS, [C_D, C_C, C_B, C_A]):
    fig.add_trace(go.Scatter(x=[None], y=[None], mode="markers", name=lab, legend="legend",
                             marker=dict(symbol="circle", size=16, color=col, line=dict(color="#555", width=1))))
fig.add_trace(go.Scatter(x=[None], y=[None], mode="markers", name="Previous<br>studies", legend="legend",
                         marker=dict(symbol="circle", size=16, color="white", line=dict(color="#555", width=1))))
fig.add_trace(go.Scatter(x=[None], y=[None], mode="markers", name="WR", legend="legend",
                         marker=dict(symbol="diamond", size=12, color="black")))
fig.add_trace(go.Scatter(x=[None], y=[None], mode="markers", name="MG", legend="legend",
                         marker=dict(symbol="square", size=12, color="black")))
fig.add_trace(go.Scatter(x=[None], y=[None], mode="markers", name="Model<br>Input", legend="legend",
                         marker=dict(symbol="star", size=16, color="black")))
for lab, col in zip(WATER_LABELS, LEG_COLS):
    fig.add_trace(go.Scatter(x=[None], y=[None], mode="lines", name=lab, legend="legend2",
                             line=dict(color=col, width=5)))

# ---- axes ----
layout = dict(width=W, height=H, margin=dict(l=0, r=0, t=0, b=0), paper_bgcolor="white",
              plot_bgcolor="white", font=dict(family=FONT))
for k, (l, r, t, b) in BOX.items():
    tick_col = "black" if k == "" else "#595959"
    tsize = 13 if k == "" else 12
    y0, y1, dy = YR[k]
    common = dict(showgrid=True, gridcolor="#D9D9D9", gridwidth=1, showline=True, linecolor="#D9D9D9",
                  mirror=True, zeroline=False, ticks="", fixedrange=True,
                  tickfont=dict(family=FONT, size=13, color=tick_col, weight="bold"))
    layout["xaxis" + k] = dict(domain=[tx(l) / W, tx(r) / W], range=[55, 80], dtick=5, tick0=55,
                               anchor="y" + k, ticklabelstandoff=9,
                               title=dict(text="wt%  SiO<sub>2</sub>", standoff=XTITLE_STANDOFF[k],
                                          font=dict(family=FONT, size=tsize, color=tick_col, weight="bold")),
                               **common)
    layout["yaxis" + k] = dict(domain=[1 - ty(b) / H, 1 - ty(t) / H], range=[y0, y1], dtick=dy, tick0=y0,
                               anchor="x" + k, ticklabelstandoff=8,
                               title=dict(text=YTITLES[k], standoff=YTITLE_STANDOFF[k],
                                          font=dict(family=FONT, size=tsize, color=tick_col, weight="bold")),
                               **common)

layout["legend"] = dict(x=tx(551) / W, y=1 - ty(66) / H, xanchor="left", yanchor="top", bgcolor="rgba(0,0,0,0)",
                        font=dict(family=FONT, size=12, color="black", weight="bold"), tracegroupgap=0,
                        itemclick=False)
layout["legend2"] = dict(x=tx(1213) / W, y=1 - ty(75) / H, xanchor="left", yanchor="top",
                         bgcolor="rgba(0,0,0,0)", font=dict(family=FONT, size=12.5, color="#333333"),
                         tracegroupgap=0, itemclick=False)
fig.update_layout(**layout)

# ---- annotations ----
ann = []


def ptext(x, y, text, size=12, color="black", bold=True, xanchor="center", family=FONT):
    ann.append(dict(x=max(tx(x), 0) / W, y=1 - ty(y) / H, xref="paper", yref="paper", text=text,
                    showarrow=False, xanchor=xanchor, yanchor="middle",
                    font=dict(family=family, size=size, color=color, weight="bold" if bold else "normal")))


for lab, (x, y) in zip("abcdef", [(9, 29), (675, 29), (9, 474), (675, 474), (9, 923), (675, 923)]):
    ptext(x, y, lab, size=40, xanchor="left", family="Liberation Sans")

ptext(1313, 73, "Initial water content", 12.5, "black", xanchor="right")
ptext(1283, 1293, "Plagioclase hygrometry estimate", 14, "black", xanchor="right")
ptext(1297, 1292, "△", 28, "black")


def dtext(k, x, y, text, size=23, bold=True, xanchor="center"):
    ann.append(dict(x=x, y=y, xref="x" + k, yref="y" + k, text=text, showarrow=False, xanchor=xanchor,
                    yanchor="middle", font=dict(family=FONT, size=size, color="black",
                                                weight="bold" if bold else "normal")))


dtext("", 61.86, 9.48, "Trachyte")
dtext("", 55.3, 7.88, "Trachy-<br>andesite", xanchor="left")
dtext("", 59.6, 6.53, "125 MPa", 21, False)
dtext("", 65.27, 6.15, "250 MPa", 21, False)
dtext("", 75.5, 5.65, "Rhyolite")
dtext("", 67.67, 5.13, "Dacite")
dtext("", 59.8, 4.47, "Andesite")
dtext("2", 76.75, 0.927, "300 MPa", 17.5, False)
dtext("2", 74.97, 0.659, "50 MPa", 17.5, False)

fig.update_layout(annotations=ann)
fig.write_html("out.html")
